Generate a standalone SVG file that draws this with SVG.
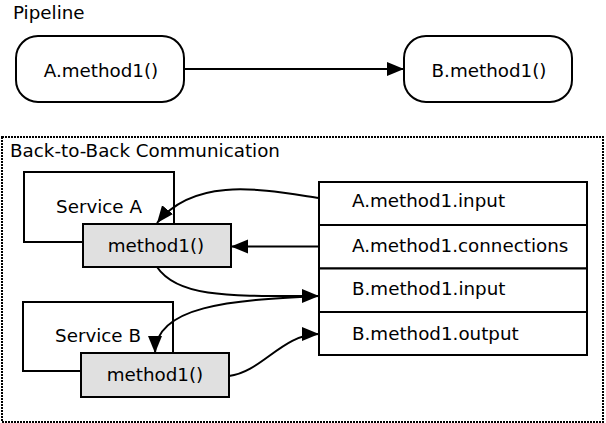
<svg xmlns="http://www.w3.org/2000/svg" width="606" height="423" viewBox="0 0 606 423">
<defs>
<style>
text{font-family:"DejaVu Sans","Liberation Sans",sans-serif;font-size:18.3px;fill:#000}
.c{text-anchor:middle}
.box{fill:#fff;stroke:#000;stroke-width:2}
.m{fill:#e0e0e0;stroke:#000;stroke-width:2}
.e{fill:none;stroke:#000;stroke-width:2}
</style>
<marker id="ah" markerUnits="userSpaceOnUse" markerWidth="18" markerHeight="15" refX="17" refY="7" orient="auto" viewBox="0 0 18 15">
<path d="M0,0 L17,7 L0,14 z" fill="#000"/>
</marker>
</defs>
<rect width="606" height="423" fill="#fff"/>
<text x="13" y="18.5">Pipeline</text>
<g id="pipeA"><rect class="box" x="16" y="36" width="168" height="66" rx="22"/><text class="c" x="101" y="76.5">A.method1()</text></g>
<g id="pipeB"><rect class="box" x="404" y="36" width="168" height="66" rx="22"/><text class="c" x="489" y="76.5">B.method1()</text></g>
<g id="cluster">
<rect x="2" y="137" width="601" height="285" fill="none" stroke="#000" stroke-width="2" stroke-dasharray="2 1"/>
<text x="10" y="157">Back-to-Back Communication</text>
</g>
<g id="serviceA"><rect class="box" x="24" y="172" width="150" height="70"/><text class="c" x="99" y="212.5">Service A</text></g>
<g id="methodA"><rect class="m" x="83" y="224" width="148" height="43"/><text class="c" x="156" y="252">method1()</text></g>
<g id="serviceB"><rect class="box" x="23" y="302" width="150" height="69"/><text class="c" x="98" y="341.5">Service B</text></g>
<g id="methodB"><rect class="m" x="81" y="353" width="148" height="44"/><text class="c" x="155" y="381">method1()</text></g>
<g id="table">
<rect class="box" x="319" y="182" width="268" height="43"/>
<rect class="box" x="319" y="225" width="268" height="43.5"/>
<rect class="box" x="319" y="268.5" width="268" height="43.5"/>
<rect class="box" x="319" y="312" width="268" height="43"/>
<text x="352" y="207">A.method1.input</text>
<text x="352" y="252">A.method1.connections</text>
<text x="352" y="295">B.method1.input</text>
<text x="352" y="340">B.method1.output</text>
</g>
<g id="connectors">
<path class="e" d="M184,69 L404,69" marker-end="url(#ah)"/>
<path class="e" d="M319,198 C265,190 195,175 157,223" marker-end="url(#ah)"/>
<path class="e" d="M319,246.5 L231,246.5" marker-end="url(#ah)"/>
<path class="e" d="M157,267 C178,298 230,296 319,296" marker-end="url(#ah)"/>
<path class="e" d="M319,296 C230,300 155,306 155,353" marker-end="url(#ah)"/>
<path class="e" d="M229,376 C262,372 282,334 319,334" marker-end="url(#ah)"/>
</g>
</svg>
